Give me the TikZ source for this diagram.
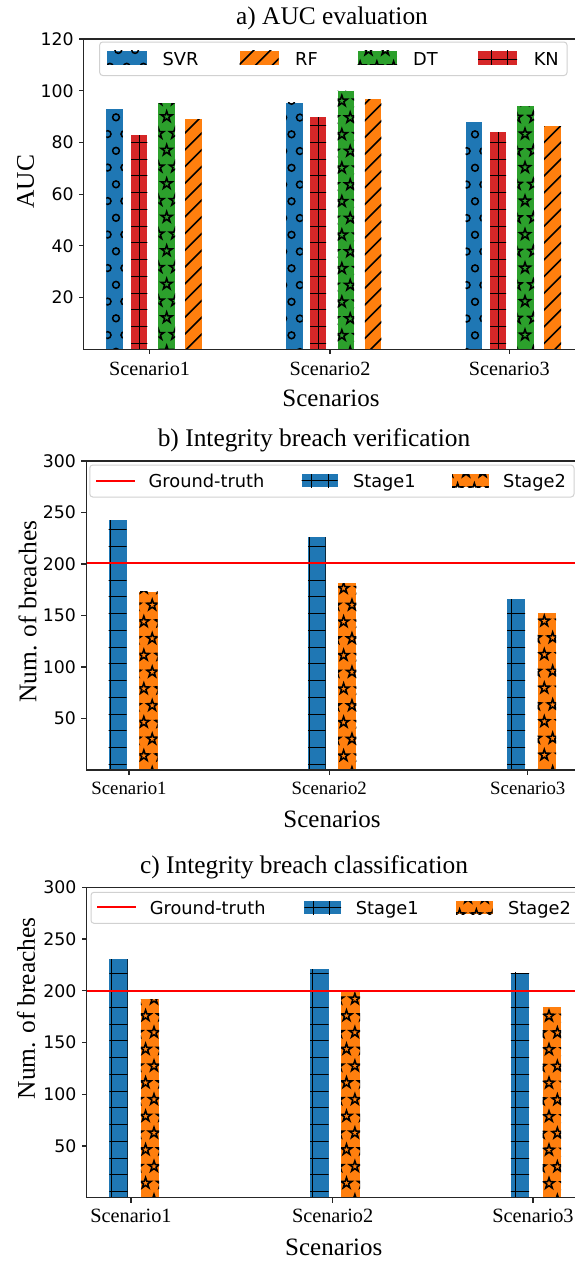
\documentclass[tikz,border=0pt]{standalone}
\usepackage{fontspec}
\setmainfont{Liberation Serif}
\newfontfamily\dvs{DejaVu Sans}
\definecolor{cblue}{HTML}{1F77B4}
\definecolor{corange}{HTML}{FF7F0E}
\definecolor{cgreen}{HTML}{2CA02C}
\definecolor{cred}{HTML}{D62728}
\definecolor{gtred}{HTML}{FF0000}

% hatch period in px
\def\hp{16.75}
% '+' hatch: x1 y1 x2 y2, x of one vertical line, y of one horizontal line
\newcommand\hatchplus[6]{%
  \begin{scope}
    \clip (#1,#2) rectangle (#3,#4);
    \pgfmathtruncatemacro\kha{floor((#2-#6)/\hp)-1}
    \pgfmathtruncatemacro\khb{ceil((#4-#6)/\hp)+1}
    \foreach \k in {\kha,...,\khb}{\pgfmathsetmacro\hh{floor(#6+\k*\hp)+0.5}\draw[hatch] (#1-1,\hh) -- (#3+1,\hh);}
    \pgfmathtruncatemacro\kva{floor((#1-#5)/\hp)-1}
    \pgfmathtruncatemacro\kvb{ceil((#3-#5)/\hp)+1}
    \foreach \k in {\kva,...,\kvb}{\pgfmathsetmacro\vv{floor(#5+\k*\hp)+0.5}\draw[hatch] (\vv,#2-1) -- (\vv,#4+1);}
  \end{scope}}
% '/' hatch: x1 y1 x2 y2, constant c of one line x+y=c
\newcommand\hatchdiag[5]{%
  \begin{scope}
    \clip (#1,#2) rectangle (#3,#4);
    \pgfmathtruncatemacro\kda{floor((#1+#2-#5)/\hp)-1}
    \pgfmathtruncatemacro\kdb{ceil((#3+#4-#5)/\hp)+1}
    \foreach \k in {\kda,...,\kdb}{\pgfmathsetmacro\cc{#5+\k*\hp}\draw[hatch] ({\cc-#4-2},#4+2) -- ({\cc-#2+2},#2-2);}
  \end{scope}}
% staggered shapes (circles or stars): x1 y1 x2 y2, centre of one shape, shape name
\newcommand\hscirc[2]{\draw[hatch] (#1,#2) circle[radius=3.4pt];}
\newcommand\hsstar[2]{\draw[hatch,line join=miter] (#1,#2) +(90:5.7pt) -- +(126:2.2pt) -- +(162:5.7pt) -- +(198:2.2pt) -- +(234:5.7pt) -- +(270:2.2pt) -- +(306:5.7pt) -- +(342:2.2pt) -- +(18:5.7pt) -- +(54:2.2pt) -- cycle;}
\newcommand\hatchdots[7]{%
  \begin{scope}
    \clip (#1,#2) rectangle (#3,#4);
    \pgfmathtruncatemacro\ja{floor((#2-#6)/\hp)-1}
    \pgfmathtruncatemacro\jb{ceil((#4-#6)/\hp)+1}
    \pgfmathtruncatemacro\ia{floor((#1-#5)/\hp)-2}
    \pgfmathtruncatemacro\ib{ceil((#3-#5)/\hp)+1}
    \foreach \j in {\ja,...,\jb}{%
      \foreach \i in {\ia,...,\ib}{%
        \pgfmathsetmacro\px{#5+\i*\hp+mod(abs(\j),2)*\hp/2}%
        \pgfmathsetmacro\py{#6+\j*\hp}%
        \csname hs#7\endcsname{\px}{\py}%
      }}
  \end{scope}}

\begin{document}
\begin{tikzpicture}[x=1pt,y=-1pt,
  hatch/.style={line width=1.5pt,black},
  spine/.style={line width=1.1pt,black!85},
  tickmark/.style={line width=1.1pt,black!85},
  gtline/.style={line width=2pt,gtred},
  legframe/.style={draw=black!18,fill=white,line width=1pt,rounded corners=3pt},
  titletext/.style={font=\fontsize{25.4}{30}\selectfont,anchor=base},
  axlabel/.style={font=\fontsize{25}{30}\selectfont,anchor=base},
  ylabeltext/.style={font=\fontsize{25.4}{30}\selectfont,rotate=90},
  ytl/.style={font=\dvs\fontsize{17.3}{20}\selectfont,anchor=east,inner sep=0pt},
  legtext/.style={font=\dvs\fontsize{17.8}{20}\selectfont,anchor=base west,inner sep=0pt}]
\useasboundingbox[fill=white] (0,0) rectangle (575,1262);

%% ---------------- a) AUC evaluation ----------------
\node[titletext] (titleA) at (332,24.5) {a) AUC evaluation};
% SVR
\foreach \xa/\xb/\yt/\ax/\ay in {106.3/122.8/109.3/116/117.3, 286/302.5/102.7/291.5/134.3, 465.7/481.7/122/475/134.3}{
  \fill[cblue] (\xa,\yt) rectangle (\xb,349.3);
  \hatchdots{\xa}{\yt}{\xb}{349.3}{\ax}{\ay}{circ}}
% KN
\foreach \xa/\xb/\yt in {131/147.4/135, 310/326/117.3, 490/506/132.3}{
  \fill[cred] (\xa,\yt) rectangle (\xb,349.3);
  \pgfmathsetmacro\xm{(\xa+\xb)/2}
  \hatchplus{\xa}{\yt}{\xb}{349.3}{\xm}{343.3}}
% DT
\foreach \xa/\xb/\yt/\ax/\ay in {158.4/175/103.3/166.7/116.7, 337.7/354.2/90.7/350.2/117.7, 517.3/534/106/525/134}{
  \fill[cgreen] (\xa,\yt) rectangle (\xb,349.3);
  \hatchdots{\xa}{\yt}{\xb}{349.3}{\ax}{\ay}{star}}
% RF
\foreach \xa/\xb/\yt in {185/201.7/119.3, 364.9/381.4/99.3, 544/561/126}{
  \fill[corange] (\xa,\yt) rectangle (\xb,349.3);
  \hatchdiag{\xa}{\yt}{\xb}{349.3}{686.5}}
% axes
\draw[spine] (580,39) -- (83.6,39) -- (83.6,349.3) -- (580,349.3);
\foreach \v in {20,40,...,120}{
  \pgfmathsetmacro\yy{349.3-\v*2.586}
  \draw[tickmark] (83.6,\yy) -- (78.7,\yy);
  \node[ytl] (ya\v) at (73.8,\yy) {\v};}
\foreach \n/\xx in {1/149.6,2/330,3/509.3}{
  \draw[tickmark] (\xx,349.3) -- (\xx,354.2);
  \node[font=\fontsize{20.2}{24}\selectfont,anchor=base] (xa\n) at (\xx,375) {Scenario\n};}
\node[axlabel] (xlabA) at (331,406.3) {Scenarios};
\node[ylabeltext] (ylabA) at (25.7,181.7) {AUC};
% legend
\draw[legframe] (99.7,42) rectangle (567,75.5);
\fill[cblue] (107,50.5) rectangle (146.7,64.5);
\hatchdots{107}{50.5}{146.7}{64.5}{118.3}{50}{circ}
\node[legtext] (lgSVR) at (162.4,65) {SVR};
\fill[corange] (239.5,50.5) rectangle (278.7,64.5);
\hatchdiag{239.5}{50.5}{278.7}{64.5}{304}
\node[legtext] (lgRF) at (295,65) {RF};
\fill[cgreen] (357.5,50.5) rectangle (397,64.5);
\hatchdots{357.5}{50.5}{397}{64.5}{368.5}{50}{star}
\node[legtext] (lgDT) at (413,65) {DT};
\fill[cred] (478,50.5) rectangle (517,64.5);
\hatchplus{478}{50.5}{517}{64.5}{491}{59.3}
\node[legtext] (lgKN) at (533.6,65) {KN};

%% ---------------- b) Integrity breach verification ----------------
\node[titletext] (titleB) at (314,446.5) {b) Integrity breach verification};
\foreach \xa/\xb/\yt/\vx in {108.5/126.5/520/110.7, 308/325.6/537.3/309.2, 507/525/599.3/511.7}{
  \fill[cblue] (\xa,\yt) rectangle (\xb,770);
  \hatchplus{\xa}{\yt}{\xb}{770}{\vx}{764.3}}
\foreach \xa/\xb/\yt/\ax/\ay in {139.4/157.7/591.7/152.2/605, 338/356.4/583.3/343.6/588.3, 537.7/556/612.7/544.3/621}{
  \fill[corange] (\xa,\yt) rectangle (\xb,770);
  \hatchdots{\xa}{\yt}{\xb}{770}{\ax}{\ay}{star}}
\coordinate (gtB0) at (86.2,563);
\coordinate (gtB1) at (580,563);
\draw[gtline] (gtB0) -- (gtB1);
\draw[spine] (580,461) -- (86.2,461) -- (86.2,770) -- (580,770);
\foreach \v in {50,100,...,300}{
  \pgfmathsetmacro\yy{770-\v*1.03}
  \draw[tickmark] (86.2,\yy) -- (81.3,\yy);
  \node[ytl] (yb\v) at (76,\yy) {\v};}
\foreach \n/\xx in {1/129,2/329.3,3/527.8}{
  \draw[tickmark] (\xx,770) -- (\xx,774.9);
  \node[font=\fontsize{18.8}{22}\selectfont,anchor=base] (xb\n) at (\xx,794) {Scenario\n};}
\node[axlabel] (xlabB) at (332,827) {Scenarios};
\node[ylabeltext] (ylabB) at (27.5,611.7) {Num. of breaches};
% legend
\draw[legframe] (89.8,465) rectangle (574,497);
\coordinate (lgB0) at (96,481);
\coordinate (lgB1) at (135,481);
\draw[gtline] (lgB0) -- (lgB1);
\node[legtext] (lgGTb) at (148.5,487.3) {Ground-truth};
\fill[cblue] (301.7,474) rectangle (337.7,487);
\hatchplus{301.7}{474}{337.7}{487}{311.7}{480.5}
\node[legtext] (lgS1b) at (352.8,487.3) {Stage1};
\fill[corange] (452,474) rectangle (488.8,487);
\hatchdots{452}{474}{488.8}{487}{466}{472}{star}
\node[legtext] (lgS2b) at (503,487.3) {Stage2};

%% ---------------- c) Integrity breach classification ----------------
\node[titletext] (titleC) at (304,873) {c) Integrity breach classification};
\foreach \xa/\xb/\yt/\vx in {109.3/127.6/959.3/111, 310.2/328.6/969/312.4, 510.8/529/972.7/515.7}{
  \fill[cblue] (\xa,\yt) rectangle (\xb,1197.7);
  \hatchplus{\xa}{\yt}{\xb}{1197.7}{\vx}{1191.7}}
\foreach \xa/\xb/\yt/\ax/\ay in {140.8/159.2/999/145.6/1015.7, 341/360/990.7/346.5/1015.7, 542.7/561/1006.7/549/1016}{
  \fill[corange] (\xa,\yt) rectangle (\xb,1197.7);
  \hatchdots{\xa}{\yt}{\xb}{1197.7}{\ax}{\ay}{star}}
\coordinate (gtC0) at (86.9,991);
\coordinate (gtC1) at (580,991);
\draw[gtline] (gtC0) -- (gtC1);
\draw[spine] (580,887.3) -- (86.9,887.3) -- (86.9,1197.7) -- (580,1197.7);
\foreach \v in {50,100,...,300}{
  \pgfmathsetmacro\yy{1197.7-\v*1.0347}
  \draw[tickmark] (86.9,\yy) -- (82,\yy);
  \node[ytl] (yc\v) at (76.7,\yy) {\v};}
\foreach \n/\xx in {1/131,2/332.6,3/533}{
  \draw[tickmark] (\xx,1197.7) -- (\xx,1202.6);
  \node[font=\fontsize{20.3}{24}\selectfont,anchor=base] (xc\n) at (\xx,1222.3) {Scenario\n};}
\node[axlabel] (xlabC) at (333.8,1255) {Scenarios};
\node[ylabeltext] (ylabC) at (26.2,1008.3) {Num. of breaches};
% legend
\draw[legframe] (91,892.3) rectangle (590,923.3);
\coordinate (lgC0) at (97,907);
\coordinate (lgC1) at (136.4,907);
\draw[gtline] (lgC0) -- (lgC1);
\node[legtext] (lgGTc) at (149.6,914) {Ground-truth};
\fill[cblue] (304.4,901) rectangle (341,914);
\hatchplus{304.4}{901}{341}{914}{313}{907.5}
\node[legtext] (lgS1c) at (355.7,914) {Stage1};
\fill[corange] (456,901) rectangle (492.6,914);
\hatchdots{456}{901}{492.6}{914}{468}{898}{star}
\node[legtext] (lgS2c) at (507.9,914) {Stage2};
\end{tikzpicture}
\end{document}
